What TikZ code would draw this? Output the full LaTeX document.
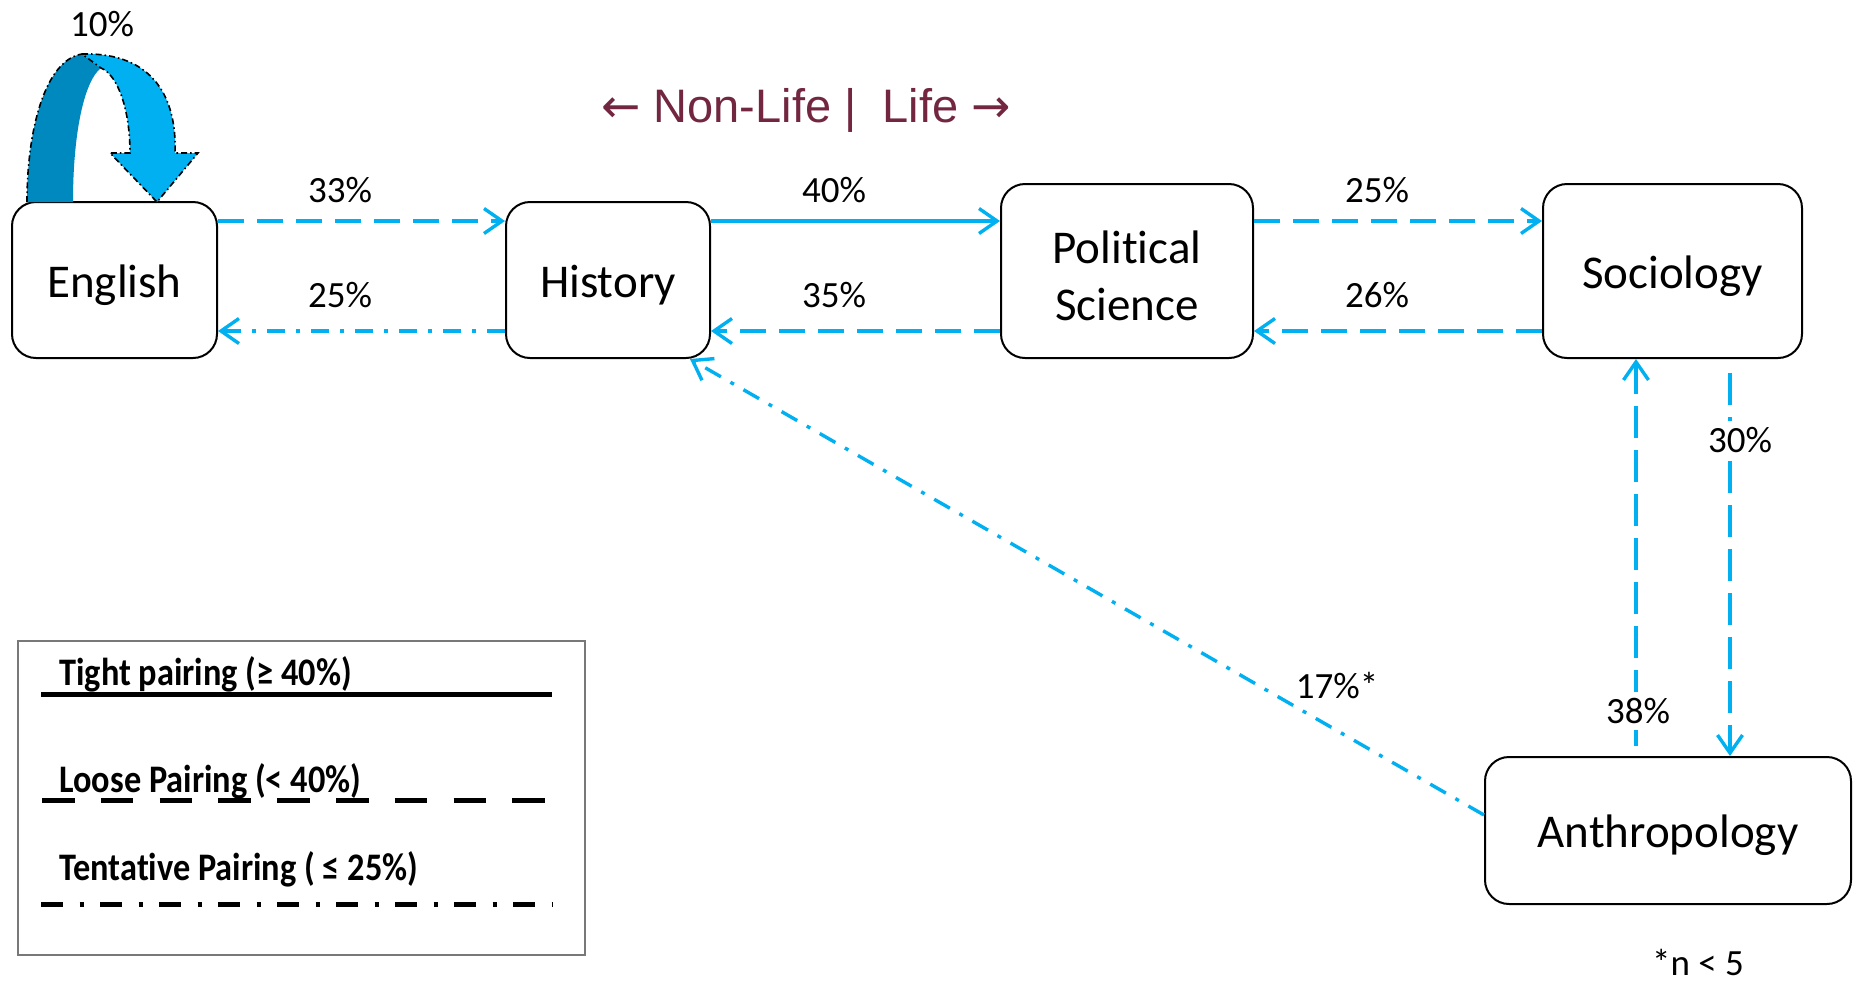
\documentclass[tikz,border=0pt]{standalone}
\usepackage{fontspec}
\usepackage{graphicx}
\setmainfont{Carlito}[Ligatures=CommonOff]
\newfontfamily\arialfont{Liberation Sans}
\newfontfamily\arrowfont{DejaVu Sans}
\usetikzlibrary{arrows.meta,calc}
\definecolor{cblue}{RGB}{0,176,240}
\definecolor{cdark}{RGB}{0,137,190}
\definecolor{cmaroon}{RGB}{114,38,64}
\definecolor{legendgray}{RGB}{120,120,120}
\newcommand{\dn}[1]{\raisebox{-2.5pt}[\height][\depth]{#1}}
\begin{document}
\begin{tikzpicture}[x=0.5pt,y=-0.5pt,
  box/.style={draw=black, line width=1pt, rounded corners=12pt, fill=white, inner sep=0pt, align=center, font=\fontsize{23.5}{28.5}\selectfont},
  conn/.style={draw=cblue, line width=1.7pt, -{Straight Barb[length=9pt,width=12.5pt,line width=1.7pt]}},
  dsh/.style={dash pattern=on 13pt off 6.5pt},
  vdsh/.style={dash pattern=on 16pt off 6pt},
  ddot/.style={dash pattern=on 9pt off 5.5pt on 2pt off 5.5pt},
  pct/.style={font=\fontsize{18.5}{22}\selectfont, inner sep=1pt},
  legtext/.style={anchor=west, font=\fontsize{19.5}{22}\selectfont\bfseries, inner sep=0pt},
  legline/.style={line width=2.5pt, black},
  loopline/.style={black, line width=0.8pt, dash pattern=on 3pt off 1.5pt on 0.8pt off 1.5pt}
]
\useasboundingbox (0,0) rectangle (1853,981);

% nodes
\node[box, minimum width=102.5pt, minimum height=78pt] (eng) at (114.5,280) {\dn{English}};
\node[box, minimum width=102pt, minimum height=78pt] (hist) at (608,280) {\dn{History}};
\node[box, minimum width=126pt, minimum height=87pt] (pol) at (1127,271) {\dn{Political}\\\dn{Science}};
\node[box, minimum width=129.5pt, minimum height=87pt] (soc) at (1672.5,271) {\dn{Sociology}};
\node[box, minimum width=183pt, minimum height=73.5pt] (anth) at (1668,830.5) {\dn{Anthropology}};

% self loop curved arrow on English
\fill[cdark] (27,202) .. controls (27,130) and (45,60) .. (82,54) -- (101,68)
   .. controls (85,80) and (73,130) .. (73,202) -- cycle;
\fill[cblue] (82,54) .. controls (155,52) and (177,100) .. (175,153) -- (198,153) -- (157,202)
   -- (110,153) -- (130,153) .. controls (130,110) and (118,75) .. (101,68) -- cycle;
\draw[loopline] (82,54) .. controls (155,52) and (177,100) .. (175,153) -- (198,153) -- (157,202)
   -- (110,153) -- (130,153) .. controls (130,110) and (118,75) .. (101,68) -- (82,54);
\draw[loopline] (27,202) .. controls (27,130) and (45,60) .. (82,54);
\node[pct] (l10) at (102,24) {10\%};

% title
\node[font=\arialfont\fontsize{23.5}{28}\selectfont, text=cmaroon, anchor=base, inner sep=0pt] (title) at (806,122) {{\arrowfont ←} Non-Life |\ \ Life {\arrowfont →}};

% horizontal connectors
\draw[conn,dsh] ([yshift=29.5pt]eng.east) -- ([yshift=29.5pt]hist.west);
\draw[conn,ddot] ([yshift=-25.5pt]hist.west) -- ([yshift=-25.5pt]eng.east);
\draw[conn] ([yshift=29.5pt]hist.east) -- ([yshift=25pt]pol.west);
\draw[conn,dsh] ([yshift=-30pt]pol.west) -- ([yshift=-25.5pt]hist.east);
\draw[conn,dsh] ([yshift=25pt]pol.east) -- ([yshift=25pt]soc.west);
\draw[conn,dsh] ([yshift=-30pt]soc.west) -- ([yshift=-30pt]pol.east);

% vertical connectors
\coordinate (a1) at ([xshift=-16pt,yshift=5pt]anth.north);
\coordinate (a2) at (a1 |- soc.south);
\draw[conn,vdsh] (a1) -- (a2);
\coordinate (b1) at ([xshift=31pt]anth.north);
\coordinate (b0) at (b1 |- soc.south);
\draw[conn,vdsh] ([yshift=-7pt]b0) -- (b1);

% diagonal
\draw[conn,ddot] ([yshift=7.75pt]anth.west) -- ([xshift=-10.5pt]hist.south east);

% labels
\node[pct] (l33) at (340,190) {33\%};
\node[pct] (l25a) at (340,295) {25\%};
\node[pct] (l40) at (834,190) {40\%};
\node[pct] (l35) at (834,295) {35\%};
\node[pct] (l25b) at (1377,190) {25\%};
\node[pct] (l26) at (1377,295) {26\%};
\node[pct, fill=white, inner sep=3pt] (l30) at (1740,440) {30\%};
\node[pct, fill=white, inner sep=3pt] (l38) at (1638,711) {38\%};
\node[pct] (l17) at (1337,686) {17\%*};
\node[pct] (note) at (1698,962) {*n < 5};

% legend
\node[draw=legendgray, line width=0.8pt, minimum width=283.5pt, minimum height=157pt, inner sep=0pt] (legend) at (301.5,798) {};
\node[legtext] (lt1) at (59,674) {\scalebox{0.88}[1]{Tight pairing (≥ 40\%)}};
\draw[legline] (41,694) -- (552,694);
\node[legtext] (lt2) at (59,781) {\scalebox{0.88}[1]{Loose Pairing (< 40\%)}};
\draw[legline, dash pattern=on 16.3pt off 13.1pt] (42,800) -- (553,800);
\node[legtext] (lt3) at (59,869) {\scalebox{0.88}[1]{Tentative Pairing ( ≤ 25\%)}};
\draw[legline, dash pattern=on 11pt off 8.25pt on 2pt off 8.25pt] (41,904) -- (553,904);
\end{tikzpicture}
\end{document}
